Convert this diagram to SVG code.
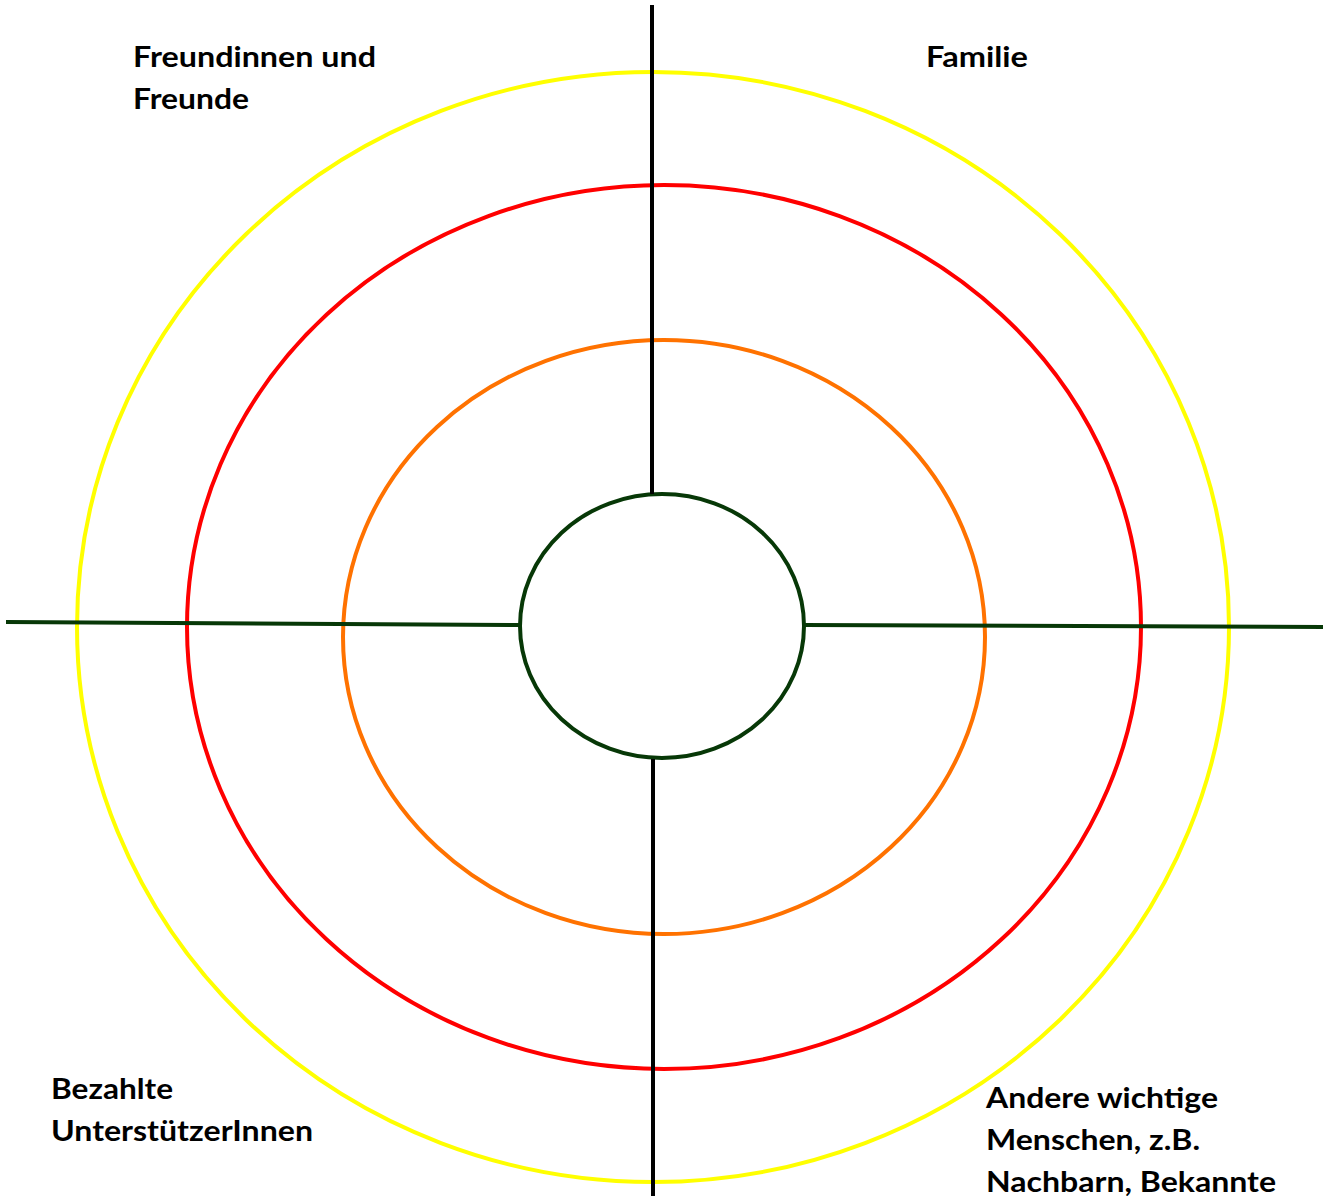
<svg xmlns="http://www.w3.org/2000/svg" width="1325" height="1196" viewBox="0 0 1325 1196">
<style>
.ring{fill:none;stroke-width:4}
.lbl{font-family:Lato,"Open Sans","Liberation Sans",sans-serif;font-weight:bold;font-size:28px;fill:#000}
</style>
<rect width="1325" height="1196" fill="#fff"/>
<g id="rings">
<ellipse id="ring-yellow" class="ring" cx="653" cy="627" rx="576" ry="555" stroke="#ffff00"/>
<ellipse id="ring-red" class="ring" cx="664" cy="627" rx="477" ry="442" stroke="#ff0000"/>
<ellipse id="ring-orange" class="ring" cx="664" cy="637" rx="321" ry="297" stroke="#ff7200"/>
<ellipse id="ring-center" class="ring" cx="662" cy="626" rx="142" ry="132" stroke="#073807"/>
</g>
<g id="connectors" stroke-width="4">
<line x1="652" y1="5" x2="652" y2="494" stroke="#000"/>
<line x1="653" y1="759" x2="653" y2="1196" stroke="#000"/>
<line x1="6" y1="622" x2="520" y2="625" stroke="#073807"/>
<line x1="804" y1="625" x2="1323" y2="627" stroke="#073807"/>
</g>
<g id="label-freunde">
<text class="lbl" x="133" y="67" textLength="243" lengthAdjust="spacingAndGlyphs">Freundinnen und</text>
<text class="lbl" x="133" y="109" textLength="116" lengthAdjust="spacingAndGlyphs">Freunde</text>
</g>
<g id="label-familie">
<text class="lbl" x="926" y="67" textLength="102" lengthAdjust="spacingAndGlyphs">Familie</text>
</g>
<g id="label-bezahlte">
<text class="lbl" x="51" y="1099" textLength="122" lengthAdjust="spacingAndGlyphs">Bezahlte</text>
<text class="lbl" x="51" y="1141" textLength="262" lengthAdjust="spacingAndGlyphs">UnterstützerInnen</text>
</g>
<g id="label-andere">
<text class="lbl" x="986" y="1108" textLength="232" lengthAdjust="spacingAndGlyphs">Andere wichtige</text>
<text class="lbl" x="986" y="1150" textLength="214" lengthAdjust="spacingAndGlyphs">Menschen, z.B.</text>
<text class="lbl" x="986" y="1192" textLength="290" lengthAdjust="spacingAndGlyphs">Nachbarn, Bekannte</text>
</g>
</svg>
